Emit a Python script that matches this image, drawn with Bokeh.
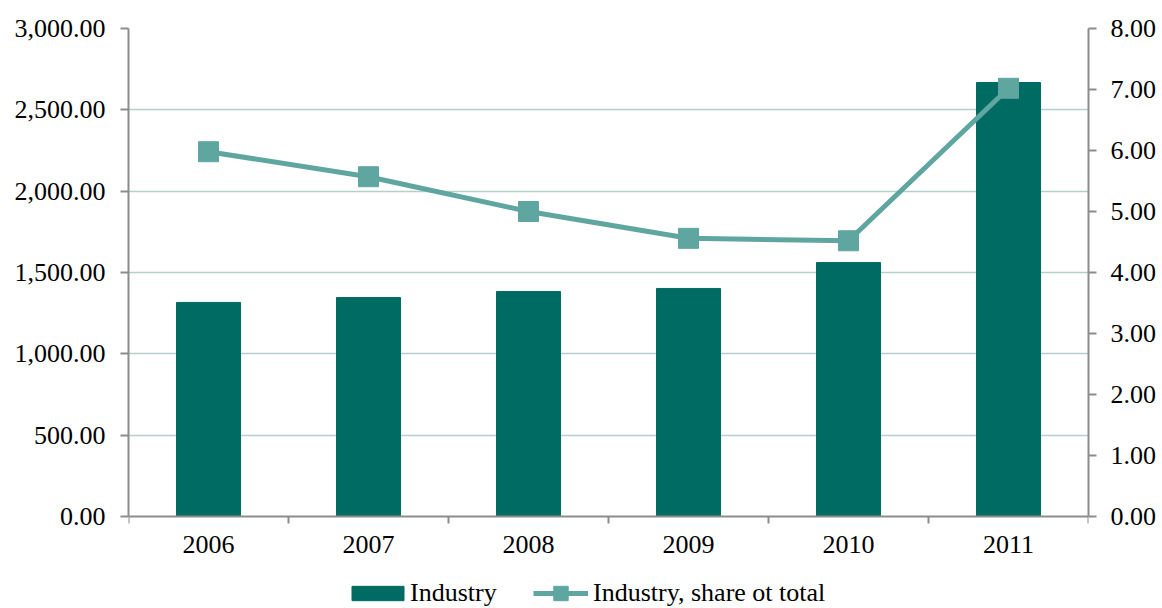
from bokeh.plotting import figure
from bokeh.models import (Range1d, LinearAxis, FixedTicker, NumeralTickFormatter,
                          Legend, LegendItem)
from bokeh.embed import file_html
from bokeh.resources import INLINE

years = ["2006", "2007", "2008", "2009", "2010", "2011"]
industry = [1316, 1346, 1383, 1402, 1561, 2668]
share = [5.98, 5.57, 5.00, 4.56, 4.52, 7.02]
left_ticks = [0, 500, 1000, 1500, 2000, 2500, 3000]
right_ticks = [0, 1, 2, 3, 4, 5, 6, 7, 8]
left_max, right_max = 3000, 8
bar_label = "Industry"
line_label = "Industry, share ot total"

BAR = "#006B63"
LINE = "#5FA6A0"
AXIS = "#8C8C8C"
GRID = "#B5CFCA"
FONT = "Liberation Serif"
FS = "26px"

# layout geometry (pixels)
W, H = 1162, 608
TOP, LEFT, RIGHT = 28, 128, 74
PLOT_H = 488            # height of the value area (top to zero line)
FRAME_H = H - TOP       # frame extends to bottom to host axis + legend
extra = (FRAME_H - PLOT_H) / PLOT_H

n = len(years)
xc = [i + 0.5 for i in range(n)]

p = figure(width=W, height=H, output_backend="svg", toolbar_location=None,
           x_range=Range1d(0, n), y_range=Range1d(-left_max * extra, left_max),
           min_border_left=LEFT, min_border_right=RIGHT, min_border_top=TOP,
           min_border_bottom=0)
p.outline_line_color = None
p.background_fill_color = "white"
p.border_fill_color = "white"

p.extra_y_ranges = {"right": Range1d(-right_max * extra, right_max)}

bars = p.vbar(x=xc, top=industry, bottom=0, width=0.4, fill_color=BAR, line_color=BAR)
ln = p.line(x=xc, y=share, line_color=LINE, line_width=5, y_range_name="right")
sc = p.scatter(x=xc, y=share, marker="square", size=20, fill_color=LINE,
               line_color=LINE, y_range_name="right")

# x axis, fixed at value 0
xa = p.xaxis[0]
xa.fixed_location = 0
xa.ticker = FixedTicker(ticks=xc, minor_ticks=list(range(n + 1)))
xa.major_label_overrides = {x: y for x, y in zip(xc, years)}
xa.major_tick_line_color = None
xa.minor_tick_line_color = AXIS
xa.minor_tick_line_width = 2
xa.minor_tick_in = 0
xa.minor_tick_out = 7
xa.axis_line_color = AXIS
xa.axis_line_width = 2
xa.major_label_text_font = FONT
xa.major_label_text_font_size = FS
xa.major_label_text_color = "black"
xa.major_label_standoff = 12

# left axis
ya = p.yaxis[0]
ya.bounds = (0, left_max)
ya.ticker = FixedTicker(ticks=left_ticks)
ya.formatter = NumeralTickFormatter(format="0,0.00")
ya.axis_line_color = AXIS
ya.axis_line_width = 2
ya.major_tick_line_color = AXIS
ya.major_tick_line_width = 2
ya.major_tick_in = 0
ya.major_tick_out = 8
ya.minor_tick_line_color = None
ya.major_label_text_font = FONT
ya.major_label_text_font_size = FS
ya.major_label_text_color = "black"
ya.major_label_standoff = 15

# right axis
ra = LinearAxis(y_range_name="right", ticker=FixedTicker(ticks=right_ticks),
                formatter=NumeralTickFormatter(format="0.00"), bounds=(0, right_max))
ra.axis_line_color = AXIS
ra.axis_line_width = 2
ra.major_tick_line_color = AXIS
ra.major_tick_line_width = 2
ra.major_tick_in = 0
ra.major_tick_out = 8
ra.minor_tick_line_color = None
ra.major_label_text_font = FONT
ra.major_label_text_font_size = FS
ra.major_label_text_color = "black"
ra.major_label_standoff = 14
p.add_layout(ra, "right")

p.xgrid.grid_line_color = None
p.ygrid.grid_line_color = GRID
p.ygrid.grid_line_width = 1.5
p.ygrid.ticker = FixedTicker(ticks=left_ticks[1:])

common = dict(orientation="horizontal", padding=0, margin=0, border_line_color=None,
              background_fill_alpha=0, label_text_font=FONT, label_text_font_size=FS,
              label_text_color="black", label_height=24)

legend_bar = Legend(items=[LegendItem(label=bar_label, renderers=[bars])],
                    location=(217, 0), glyph_width=65, glyph_height=18,
                    label_standoff=0, **common)
legend_line = Legend(items=[LegendItem(label=line_label, renderers=[ln, sc])],
                     location=(405, -3), glyph_width=55, glyph_height=36,
                     label_standoff=5, **common)
p.add_layout(legend_bar, "center")
p.add_layout(legend_line, "center")

open("out.html", "w").write(file_html(p, INLINE))
